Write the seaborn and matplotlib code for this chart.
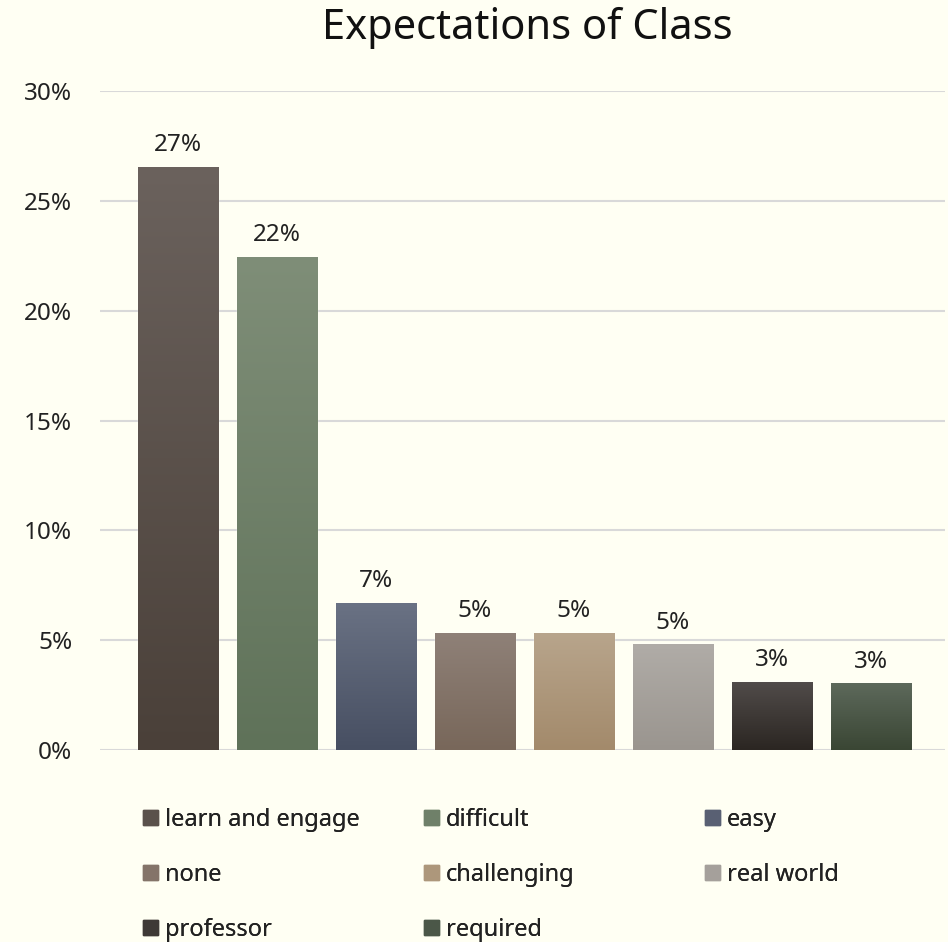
import pandas as pd
import matplotlib.pyplot as plt
import seaborn as sns
import numpy as np
from matplotlib.colors import LinearSegmentedColormap

# dados (percentual)
categorias = ['learn and engage', 'difficult', 'easy', 'none', 'challenging',
              'real world', 'professor', 'required']
valores = [26.55, 22.45, 6.7, 5.33, 5.33, 4.82, 3.1, 3.05]
rotulos = [f'{v:.0f}%' for v in valores]
ticks_y = [0, 5, 10, 15, 20, 25, 30]

# cores de cada barra (topo, base) para o degradê
cores_topo = ['#6b625d', '#7f8e78', '#6a7284', '#8f8178', '#b8a58c', '#b0aca7', '#514c4a', '#5d695b']
cores_base = ['#4a4039', '#5f7259', '#474f62', '#78675a', '#a38a6b', '#9a958f', '#2b2622', '#3a4634']
cores_meio = ['#5a514b', '#6f8069', '#596073', '#847469', '#ad977b', '#a5a09b', '#3e3936', '#4b5748']

df = pd.DataFrame({'categoria': categorias, 'valor': valores})

fundo = '#fffff3'
sns.set_theme(style='white')
plt.rcParams['font.family'] = ['Noto Sans', 'DejaVu Sans']

fig = plt.figure(figsize=(9.48, 9.42), dpi=100, facecolor=fundo)
ax = fig.add_axes([100 / 948, 1 - 750 / 942, 845 / 948, (750 - 91) / 942])
ax.set_facecolor(fundo)

sns.barplot(data=df, x='categoria', y='valor', hue='categoria',
            palette=dict(zip(categorias, cores_meio)), width=0.81,
            legend=False, ax=ax, zorder=3)

ax.set_yticks(ticks_y)
ax.set_yticklabels([f'{t}%' for t in ticks_y], fontsize=17.5, color='#222222')
ax.set_xticks([])
ax.set_xlabel('')
ax.set_ylabel('')
ax.tick_params(axis='y', length=0, pad=20)
for s in ax.spines.values():
    s.set_visible(False)
ax.grid(axis='y', color='#d9d9d9', linewidth=1.5, zorder=0)
ax.set_axisbelow(True)

# degradê vertical em cada barra
barras = ax.patches[:len(categorias)]
gradiente = np.linspace(0, 1, 256).reshape(-1, 1)
for barra, ct, cb, rot in zip(barras, cores_topo, cores_base, rotulos):
    x0, y0 = barra.get_x(), barra.get_y()
    w, h = barra.get_width(), barra.get_height()
    cmap = LinearSegmentedColormap.from_list('g', [cb, ct])
    img = ax.imshow(gradiente, cmap=cmap, aspect='auto', origin='lower',
                    extent=[x0, x0 + w, y0, y0 + h], zorder=4)
    img.set_clip_path(barra)
    ax.text(x0 + w / 2, y0 + h + 0.43, rot, ha='center', va='bottom',
            fontsize=17.5, color='#222222', zorder=5)
ax.set_xlim(-0.79, 7.75)
ax.set_ylim(0, 30)

fig.text(527 / 948, 1 - 28 / 942, 'Expectations of Class', ha='center', va='center',
         fontsize=30, color='#111111')

# legenda em três colunas alinhadas
colunas = [[0, 3, 6], [1, 4, 7], [2, 5]]
x_colunas = [143, 424, 705]
for idx, xc in zip(colunas, x_colunas):
    handles = [plt.Rectangle((0, 0), 1, 1, color=cores_meio[i]) for i in idx]
    leg = fig.legend(handles, [categorias[i] for i in idx],
                     loc='upper left', bbox_to_anchor=(xc / 948, 1 - 808 / 942),
                     frameon=False, fontsize=17, handlelength=0.64, handleheight=0.6,
                     handletextpad=0.3, labelspacing=1.31, borderaxespad=0,
                     borderpad=0, labelcolor='#222222')
    fig.add_artist(leg)

plt.savefig('out.png', dpi=100, facecolor=fundo)
